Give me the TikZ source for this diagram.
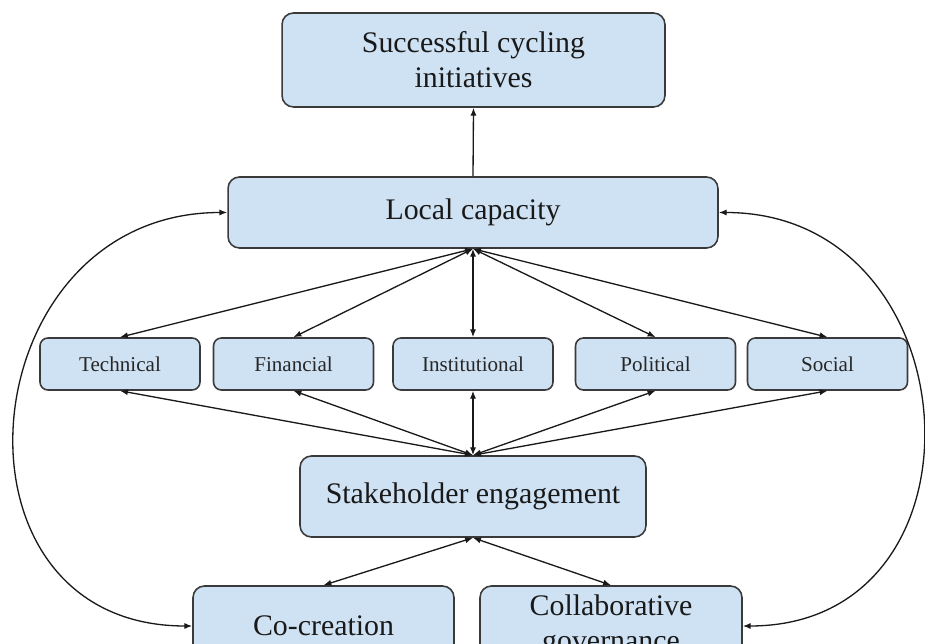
\documentclass[tikz,border=0pt]{standalone}
\usepackage{fontspec}
\setmainfont{Liberation Serif}
\usetikzlibrary{arrows.meta}

\definecolor{boxfill}{HTML}{CFE2F3}
\definecolor{boxline}{HTML}{3A3A3A}

\tikzset{
  bigbox/.style={draw=boxline, fill=boxfill, line width=0.9pt, rounded corners=6.5pt,
    align=center, text=black!90, font=\fontsize{17}{20}\selectfont},
  smallbox/.style={draw=boxline, fill=boxfill, line width=0.9pt, rounded corners=4.5pt,
    minimum width=3.2cm, minimum height=1.04cm, text=black!85, font=\fontsize{12}{14}\selectfont},
  link/.style={line width=0.75pt, black!90},
}

\begin{document}
\begin{tikzpicture}[x=0.02cm, y=-0.02cm, >={Latex[length=4.5pt,width=3.5pt]}]
\useasboundingbox (0,0) rectangle (925,644);
\clip (0,0) rectangle (925,644);

\node[bigbox, minimum width=7.66cm, minimum height=1.88cm] (success) at (473.5,60) {Successful cycling\\initiatives};
\node[bigbox, minimum width=9.8cm, minimum height=1.42cm] (cap) at (473,212.5) {Local capacity};

\node[smallbox] (tech) at (120,364) {Technical};
\node[smallbox] (fin) at (293.5,364) {Financial};
\node[smallbox] (inst) at (473,364) {Institutional};
\node[smallbox] (pol) at (655.5,364) {Political};
\node[smallbox] (soc) at (827.5,364) {Social};

\node[bigbox, minimum width=6.92cm, minimum height=1.62cm] (stake) at (473,496.5) {Stakeholder engagement};
\node[bigbox, minimum width=5.22cm, minimum height=1.6cm] (cocreate) at (323.5,626) {Co-creation};
\node[bigbox, minimum width=5.24cm, minimum height=1.6cm] (collab) at (611,626) {Collaborative\\governance};

\draw[link, ->] (cap.north) -- (success.south);
\foreach \dim in {tech, fin, inst, pol, soc} {
    \draw[link, <->] (cap.south) -- (\dim.north);
    \draw[link, <->] (stake.north) -- (\dim.south);
}
\draw[link, <->] (stake.south) -- (cocreate.north);
\draw[link, <->] (stake.south) -- (collab.north);

\draw[link, <->] (cap.west) to[out=180, in=180, looseness=1.6] (cocreate.west);
\draw[link, <->] (cap.east) to[out=0, in=0, looseness=1.58] (collab.east);
\end{tikzpicture}
\end{document}
